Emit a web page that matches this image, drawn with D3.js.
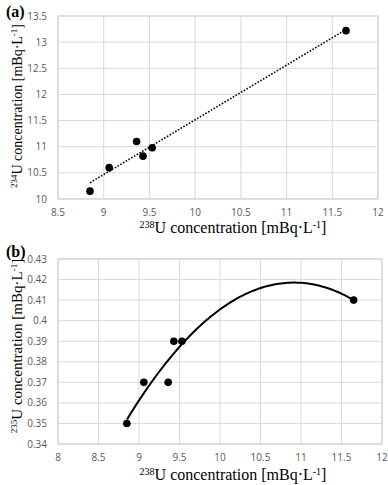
<!DOCTYPE html>
<html><head><meta charset="utf-8">
<script src="https://cdn.jsdelivr.net/npm/d3@7"></script>
<style>body{margin:0;background:#fff}</style>
</head><body>
<svg id="c" width="388" height="485"></svg>
<script>
// Data
const u238 = [8.85, 9.06, 9.36, 9.43, 9.53, 11.65];
const u234 = [10.15, 10.6, 11.1, 10.82, 10.98, 13.22];
const u235 = [0.35, 0.37, 0.37, 0.39, 0.39, 0.41];
const xTicksA = [8.5, 9, 9.5, 10, 10.5, 11, 11.5, 12];
const yTicksA = [10, 10.5, 11, 11.5, 12, 12.5, 13, 13.5];
const xTicksB = [8, 8.5, 9, 9.5, 10, 10.5, 11, 11.5, 12];
const yTicksB = [0.34, 0.35, 0.36, 0.37, 0.38, 0.39, 0.40, 0.41, 0.42, 0.43];

const SERIF = "Liberation Serif";
const SANS = "Open Sans";
const svg = d3.select("#c");

function linFit(xs, ys){
  const n=xs.length, mx=d3.mean(xs), my=d3.mean(ys);
  let sxy=0,sxx=0; for(let i=0;i<n;i++){sxy+=(xs[i]-mx)*(ys[i]-my);sxx+=(xs[i]-mx)**2;}
  const b=sxy/sxx; return x=>my+b*(x-mx);
}
function quadFit(xs, ys){
  const n=xs.length; let S=[0,0,0,0,0], T=[0,0,0];
  for(let i=0;i<n;i++){const x=xs[i];for(let k=0;k<5;k++)S[k]+=x**k;for(let k=0;k<3;k++)T[k]+=ys[i]*x**k;}
  const M=[[S[0],S[1],S[2],T[0]],[S[1],S[2],S[3],T[1]],[S[2],S[3],S[4],T[2]]];
  for(let i=0;i<3;i++){for(let j=i+1;j<3;j++){const f=M[j][i]/M[i][i];for(let k=i;k<4;k++)M[j][k]-=f*M[i][k];}}
  const c=[0,0,0];
  for(let i=2;i>=0;i--){let s=M[i][3];for(let k=i+1;k<3;k++)s-=M[i][k]*c[k];c[i]=s/M[i][i];}
  return x=>c[0]+c[1]*x+c[2]*x*x;
}

function title(sel, iso, fs){
  const sup = Math.round(fs*0.62), sh = Math.round(fs*0.33);
  sel.append("tspan").attr("font-size",sup).attr("dy",-sh).text(iso);
  sel.append("tspan").attr("dy",sh).text("U concentration [mBq·L");
  sel.append("tspan").attr("font-size",sup).attr("dy",-sh).text("-1");
  sel.append("tspan").attr("dy",sh).text("]");
}

function panel(o){
  const g = svg.append("g");
  const x = d3.scaleLinear().domain(o.xd).range([o.l, o.r]);
  const y = d3.scaleLinear().domain(o.yd).range([o.b, o.t]);
  g.selectAll(".gx").data(o.xt).join("line")
    .attr("x1",d=>x(d)).attr("x2",d=>x(d)).attr("y1",o.t).attr("y2",o.b)
    .attr("stroke","#d9d9d9").attr("stroke-width",1);
  g.selectAll(".gy").data(o.yt).join("line")
    .attr("y1",d=>y(d)).attr("y2",d=>y(d)).attr("x1",o.l).attr("x2",o.r)
    .attr("stroke","#d9d9d9").attr("stroke-width",1);
  g.append("rect").attr("x",o.l).attr("y",o.t).attr("width",o.r-o.l).attr("height",o.b-o.t)
    .attr("fill","none").attr("stroke","#d0d0d0");
  g.selectAll(".tx").data(o.xt).join("text")
    .attr("x",d=>x(d)).attr("y",o.b+17).attr("text-anchor","middle")
    .attr("font-family",SANS).attr("font-size",10).attr("fill","#595959")
    .text(d=>String(d));
  g.selectAll(".ty").data(o.yt).join("text")
    .attr("x",o.l-11).attr("y",d=>y(d)+3.5).attr("text-anchor","end")
    .attr("font-family",SANS).attr("font-size",10).attr("fill","#595959")
    .text(o.yfmt);
  const xs = d3.range(0,101).map(i=>d3.min(o.data.x)+(d3.max(o.data.x)-d3.min(o.data.x))*i/100);
  g.append("path").datum(xs)
    .attr("d", d3.line().x(d=>x(d)).y(d=>y(o.fit(d))))
    .attr("fill","none").attr("stroke","#000")
    .attr("stroke-width",o.dotted?1.6:2)
    .attr("stroke-dasharray",o.dotted?"1.6,1.6":null);
  g.selectAll(".p").data(o.data.x.map((v,i)=>[v,o.data.y[i]])).join("circle")
    .attr("cx",d=>x(d[0])).attr("cy",d=>y(d[1])).attr("r",3.8).attr("fill","#000");
  const xt = g.append("text").attr("x",233).attr("y",o.xty).attr("text-anchor","middle")
    .attr("font-family",SERIF).attr("font-size",16).attr("fill","#000");
  title(xt, "238", 16);
  const yt = g.append("text").attr("transform",`translate(22,${o.ytc}) rotate(-90)`).attr("text-anchor","middle")
    .attr("font-family",SERIF).attr("font-size",o.yfs).attr("fill","#000");
  title(yt, o.iso, o.yfs);
  g.append("text").attr("x",6).attr("y",o.lby).attr("font-family",SERIF)
    .attr("font-weight","bold").attr("font-size",16).text(o.label);
}

panel({xd:[8.5,12], yd:[10,13.5], l:58, r:378, t:16, b:199, xt:xTicksA, yt:yTicksA,
  yfmt:d=>String(d), data:{x:u238,y:u234}, fit:linFit(u238,u234), dotted:true,
  xty:233, ytc:106, yfs:14, iso:"234", label:"(a)", lby:17});
panel({xd:[8,12], yd:[0.34,0.43], l:58, r:382, t:259, b:444, xt:xTicksB, yt:yTicksB,
  yfmt:d=>d3.format(".2~f")(d), data:{x:u238,y:u235}, fit:quadFit(u238,u235), dotted:false,
  xty:480, ytc:346, yfs:15, iso:"235", label:"(b)", lby:257});
</script>
</body></html>
